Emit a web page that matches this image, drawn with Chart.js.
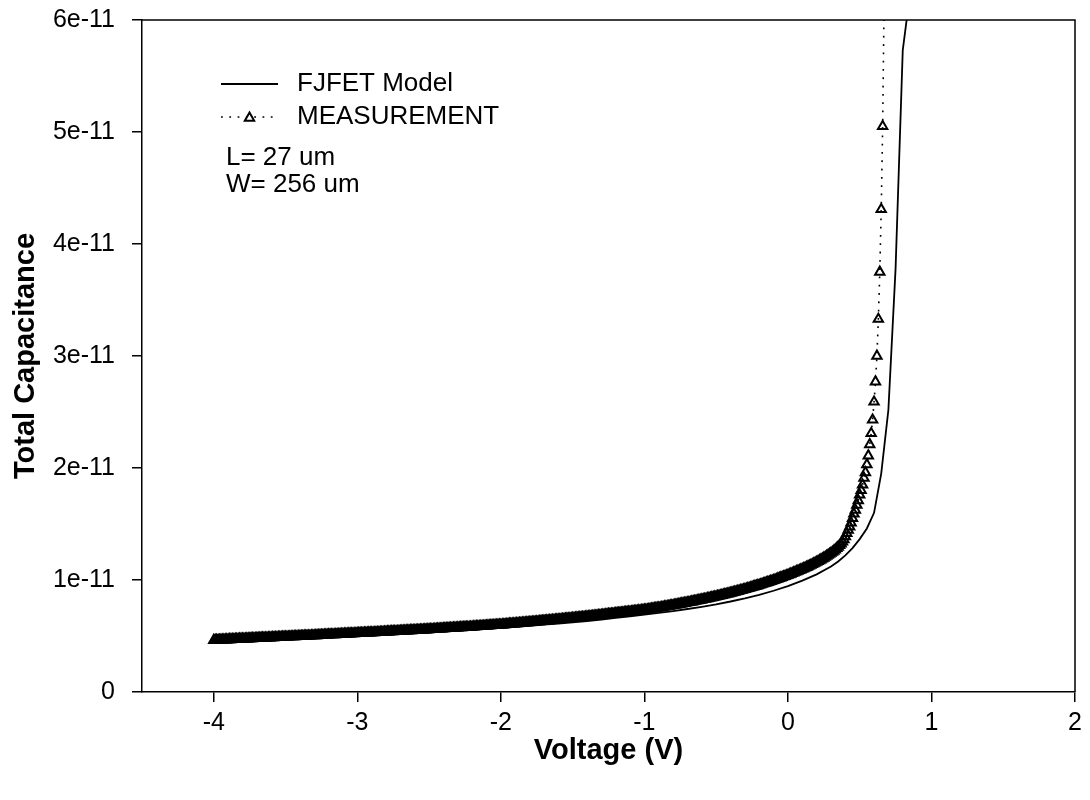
<!DOCTYPE html>
<html>
<head>
<meta charset="utf-8">
<title>FJFET capacitance</title>
<script src="https://cdn.jsdelivr.net/npm/chart.js@4/dist/chart.umd.min.js"></script>
<style>
  html, body { margin: 0; padding: 0; background: #ffffff; }
  #wrap { width: 1090px; height: 800px; }
</style>
</head>
<body>
<div id="wrap"><canvas id="chart" width="1090" height="800"></canvas></div>
<script>
// ---- data -------------------------------------------------------------
// capacitance values are in units of 1e-11 F
const X_TICKS = [-4, -3, -2, -1, 0, 1, 2];
const Y_TICKS = [0, 1, 2, 3, 4, 5, 6];
const Y_TICK_LABELS = ['0', '1e-11', '2e-11', '3e-11', '4e-11', '5e-11', '6e-11'];

// measured C-V sweep: -4.00 V upward in 10 mV steps, one row per 0.1 V
const SWEEP_START = -4.0;
const SWEEP_STEP = 0.01;
const MEAS_C = [
  0.462,0.463,0.463,0.464,0.464,0.465,0.466,0.466,0.467,0.467, // -4.0
  0.468,0.469,0.469,0.470,0.470,0.471,0.472,0.472,0.473,0.473, // -3.9
  0.474,0.475,0.475,0.476,0.476,0.477,0.478,0.478,0.479,0.479, // -3.8
  0.480,0.481,0.481,0.482,0.482,0.483,0.484,0.484,0.485,0.485, // -3.7
  0.486,0.487,0.487,0.488,0.488,0.489,0.490,0.490,0.491,0.491, // -3.6
  0.492,0.493,0.493,0.494,0.494,0.495,0.496,0.496,0.497,0.497, // -3.5
  0.498,0.499,0.499,0.500,0.500,0.501,0.502,0.502,0.503,0.503, // -3.4
  0.504,0.505,0.505,0.506,0.507,0.507,0.508,0.509,0.509,0.510, // -3.3
  0.511,0.512,0.512,0.513,0.513,0.514,0.515,0.515,0.516,0.516, // -3.2
  0.517,0.518,0.518,0.519,0.520,0.520,0.521,0.522,0.522,0.523, // -3.1
  0.524,0.525,0.525,0.526,0.526,0.527,0.528,0.528,0.529,0.529, // -3.0
  0.530,0.531,0.531,0.532,0.533,0.533,0.534,0.535,0.535,0.536, // -2.9
  0.537,0.538,0.538,0.539,0.540,0.540,0.541,0.542,0.542,0.543, // -2.8
  0.544,0.545,0.545,0.546,0.547,0.547,0.548,0.549,0.549,0.550, // -2.7
  0.551,0.552,0.552,0.553,0.554,0.554,0.555,0.556,0.556,0.557, // -2.6
  0.558,0.559,0.560,0.560,0.561,0.562,0.563,0.564,0.564,0.565, // -2.5
  0.566,0.567,0.568,0.568,0.569,0.570,0.571,0.572,0.572,0.573, // -2.4
  0.574,0.575,0.576,0.576,0.577,0.578,0.579,0.580,0.580,0.581, // -2.3
  0.582,0.583,0.584,0.585,0.586,0.586,0.587,0.588,0.589,0.590, // -2.2
  0.591,0.592,0.593,0.594,0.595,0.595,0.596,0.597,0.598,0.599, // -2.1
  0.600,0.601,0.602,0.603,0.604,0.605,0.607,0.608,0.609,0.610, // -2.0
  0.611,0.612,0.613,0.614,0.615,0.616,0.618,0.619,0.620,0.621, // -1.9
  0.622,0.623,0.624,0.626,0.627,0.628,0.629,0.630,0.632,0.633, // -1.8
  0.634,0.635,0.636,0.638,0.639,0.640,0.641,0.642,0.644,0.645, // -1.7
  0.646,0.647,0.649,0.650,0.651,0.653,0.654,0.655,0.656,0.658, // -1.6
  0.659,0.660,0.662,0.663,0.664,0.666,0.667,0.668,0.669,0.671, // -1.5
  0.672,0.673,0.675,0.676,0.678,0.679,0.680,0.682,0.683,0.685, // -1.4
  0.686,0.688,0.689,0.691,0.692,0.694,0.695,0.697,0.698,0.700, // -1.3
  0.701,0.703,0.704,0.706,0.707,0.709,0.710,0.712,0.713,0.715, // -1.2
  0.716,0.718,0.719,0.721,0.722,0.724,0.726,0.727,0.729,0.730, // -1.1
  0.732,0.734,0.736,0.738,0.740,0.742,0.744,0.746,0.748,0.750, // -1.0
  0.752,0.754,0.756,0.758,0.761,0.763,0.765,0.767,0.770,0.772, // -0.9
  0.774,0.776,0.779,0.781,0.784,0.786,0.788,0.791,0.793,0.796, // -0.8
  0.798,0.801,0.803,0.806,0.808,0.811,0.814,0.816,0.819,0.821, // -0.7
  0.824,0.827,0.830,0.832,0.835,0.838,0.841,0.844,0.846,0.849, // -0.6
  0.852,0.855,0.858,0.861,0.864,0.868,0.871,0.874,0.877,0.880, // -0.5
  0.883,0.886,0.890,0.893,0.897,0.900,0.903,0.907,0.910,0.914, // -0.4
  0.917,0.921,0.925,0.928,0.932,0.936,0.940,0.944,0.947,0.951, // -0.3
  0.955,0.959,0.963,0.968,0.972,0.976,0.980,0.984,0.989,0.993, // -0.2
  0.997,1.002,1.006,1.011,1.016,1.020,1.025,1.030,1.034,1.039, // -0.1
  1.044,1.049,1.054,1.060,1.065,1.070,1.076,1.081,1.086,1.092, //  0.0
  1.097,1.103,1.108,1.114,1.121,1.127,1.133,1.140,1.146,1.153, //  0.1
  1.160,1.167,1.174,1.181,1.189,1.197,1.205,1.213,1.222,1.231, //  0.2
  1.240,1.249,1.259,1.270,1.282,1.295,1.309,1.324,1.341,1.362, //  0.3
  1.387,1.417,1.446,1.476,1.510,1.550,1.590,1.625,1.670,1.710, //  0.4
  1.760,1.800,1.850,1.910,1.960,2.030,2.110,2.210,2.310,2.430, //  0.5
  2.590,2.770,3.000,3.330,3.750,4.310,5.050,6.150              //  0.6
];

// FJFET model curve
const MODEL_V = [
  -4.0, -3.9, -3.8, -3.7, -3.6, -3.5, -3.4, -3.3, -3.2, -3.1,
  -3.0, -2.9, -2.8, -2.7, -2.6, -2.5, -2.4, -2.3, -2.2, -2.1,
  -2.0, -1.9, -1.8, -1.7, -1.6, -1.5, -1.4, -1.3, -1.2, -1.1,
  -1.0, -0.9, -0.8, -0.7, -0.6, -0.5, -0.4, -0.3, -0.2, -0.1,
   0.0,  0.1,  0.2,  0.3,  0.35, 0.4,  0.45, 0.5,  0.55, 0.6,
   0.65, 0.7,  0.75, 0.8,  0.85
];
const MODEL_C = [
  0.452, 0.457, 0.462, 0.467, 0.472, 0.477, 0.482, 0.488, 0.493, 0.499,
  0.505, 0.511, 0.517, 0.523, 0.530, 0.536, 0.543, 0.550, 0.557, 0.565,
  0.573, 0.582, 0.591, 0.601, 0.611, 0.622, 0.634, 0.647, 0.661, 0.675,
  0.690, 0.706, 0.723, 0.741, 0.761, 0.783, 0.808, 0.836, 0.868, 0.904,
  0.945, 0.995, 1.050, 1.120, 1.165, 1.220, 1.285, 1.365, 1.460, 1.600,
  1.950, 2.520, 3.780, 5.730, 6.230
];

const DEVICE_NOTES = ['L= 27 um', 'W= 256 um'];

// ---- styling ----------------------------------------------------------
const FONT = '"Liberation Sans", Arial, Helvetica, sans-serif';
const INK = '#000000';

const measPoints = MEAS_C.map((c, i) => ({ x: +(SWEEP_START + i * SWEEP_STEP).toFixed(2), y: c }));
const modelPoints = MODEL_V.map((v, i) => ({ x: v, y: MODEL_C[i] }));

// plot frame (top and right edges) plus the in-plot key and device notes
const framePlugin = {
  id: 'frameAndKey',
  afterDraw(chart) {
    const { ctx, chartArea: a } = chart;
    ctx.save();
    ctx.strokeStyle = INK;
    ctx.lineWidth = 1.5;
    ctx.beginPath();
    ctx.moveTo(a.left, a.top);
    ctx.lineTo(a.right, a.top);
    ctx.lineTo(a.right, a.bottom);
    ctx.stroke();

    const dsModel = chart.data.datasets[0];
    const dsMeas = chart.data.datasets[1];
    const x0 = 221, x1 = 278, tx = 297;
    const rowY = [84, 117];

    ctx.font = '26px ' + FONT;
    ctx.fillStyle = INK;
    ctx.textBaseline = 'middle';
    ctx.textAlign = 'left';

    // model entry
    ctx.lineWidth = dsModel.borderWidth;
    ctx.setLineDash([]);
    ctx.beginPath();
    ctx.moveTo(x0, rowY[0]);
    ctx.lineTo(x1, rowY[0]);
    ctx.stroke();
    ctx.fillText(dsModel.label, tx, rowY[0]);

    // measurement entry
    ctx.lineWidth = dsMeas.borderWidth;
    ctx.setLineDash(dsMeas.borderDash);
    ctx.beginPath();
    ctx.moveTo(x0, rowY[1]);
    ctx.lineTo(x1, rowY[1]);
    ctx.stroke();
    ctx.setLineDash([]);
    ctx.fillStyle = '#ffffff';
    ctx.strokeStyle = dsMeas.pointBorderColor;
    ctx.lineWidth = dsMeas.pointBorderWidth;
    Chart.helpers.drawPoint(ctx, {
      pointStyle: dsMeas.pointStyle, radius: dsMeas.pointRadius,
      rotation: 0, borderWidth: dsMeas.pointBorderWidth
    }, (x0 + x1) / 2, rowY[1] + 1);
    ctx.fillStyle = INK;
    ctx.fillText(dsMeas.label, tx, rowY[1]);

    // device geometry
    ctx.fillText(DEVICE_NOTES[0], 226, 158);
    ctx.fillText(DEVICE_NOTES[1], 226, 185);
    ctx.restore();
  }
};

const noEdgePadding = s => { s.paddingTop = 0; s.paddingBottom = 0; s.paddingLeft = 0; s.paddingRight = 0; };

new Chart(document.getElementById('chart'), {
  type: 'scatter',
  data: {
    datasets: [
      {
        label: 'FJFET Model',
        data: modelPoints,
        showLine: true,
        borderColor: INK,
        borderWidth: 1.8,
        pointRadius: 0,
        tension: 0,
        order: 0
      },
      {
        label: 'MEASUREMENT',
        data: measPoints,
        showLine: true,
        borderColor: INK,
        borderWidth: 1.6,
        borderDash: [1.8, 6.5],
        pointStyle: 'triangle',
        pointRadius: 5.4,
        pointBorderWidth: 2,
        pointBorderColor: INK,
        pointBackgroundColor: 'rgba(255,255,255,0)',
        tension: 0,
        order: 1
      }
    ]
  },
  options: {
    responsive: false,
    animation: false,
    devicePixelRatio: 1,
    layout: { padding: { left: 0, right: 15, top: 20, bottom: 0 } },
    plugins: { legend: { display: false }, tooltip: { enabled: false } },
    scales: {
      x: {
        type: 'linear',
        min: -4.5,
        max: 2,
        afterBuildTicks: s => { s.ticks = X_TICKS.map(v => ({ value: v })); },
        afterFit: s => { s.height = 108; noEdgePadding(s); },
        ticks: { color: INK, font: { family: FONT, size: 25 }, padding: 6, autoSkip: false, maxRotation: 0 },
        grid: { display: true, drawOnChartArea: false, drawTicks: true, tickLength: 10, color: INK, lineWidth: 1.5 },
        border: { display: true, color: INK, width: 1.5 },
        title: { display: true, text: 'Voltage (V)', color: INK,
                 font: { family: FONT, size: 29, weight: 'bold' }, padding: { top: 0, bottom: 32 } }
      },
      y: {
        type: 'linear',
        min: 0,
        max: 6,
        afterBuildTicks: s => { s.ticks = Y_TICKS.map(v => ({ value: v })); },
        afterFit: s => { s.width = 142; noEdgePadding(s); },
        ticks: { color: INK, font: { family: FONT, size: 25 }, padding: 17,
                 callback: (v, i) => Y_TICK_LABELS[i] },
        grid: { display: true, drawOnChartArea: false, drawTicks: true, tickLength: 10, color: INK, lineWidth: 1.5 },
        border: { display: true, color: INK, width: 1.5 },
        title: { display: true, text: 'Total Capacitance', color: INK,
                 font: { family: FONT, size: 29, weight: 'bold' }, padding: { top: 9, bottom: 0 } }
      }
    }
  },
  plugins: [framePlugin]
});
</script>
</body>
</html>
